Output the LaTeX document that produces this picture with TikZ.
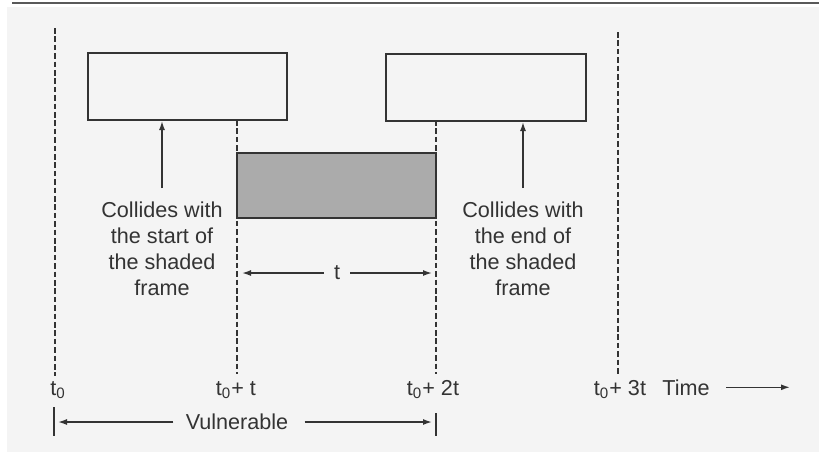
\documentclass[tikz,border=0pt]{standalone}
\usepackage{fontspec}
\setmainfont{Liberation Sans}
\usepackage{xcolor}
\definecolor{myink}{HTML}{333333}
\definecolor{mypaper}{HTML}{F4F4F4}
\definecolor{myshade}{HTML}{ABABAB}
\usetikzlibrary{arrows.meta}

\begin{document}
\begin{tikzpicture}[x=0.5pt, y=-0.5pt,
    every node/.style={text=myink, font=\fontsize{10.8}{13}\selectfont, inner sep=0pt},
    slot/.style={draw=myink, line width=0.8pt},
    marker/.style={draw=myink, line width=0.8pt, dash pattern=on 2.8pt off 1.4pt},
    pointer/.style={draw=myink, line width=0.75pt, -{Latex[length=4.5pt,width=3pt]}}]
        \useasboundingbox (0,0) rectangle (819,452);
        \fill[mypaper] (7,7) rectangle (819,452);
        \draw[black!65, line width=1pt] (12,3) -- (819,3);

        \draw[marker] (55,28) -- (55,376);
        \draw[marker] (237,120) -- (237,374);
        \draw[marker] (436,120) -- (436,374);
        \draw[marker] (618,32) -- (618,374);

        \draw[slot] (88,53) rectangle (287,120);
        \draw[slot] (386,54) rectangle (586,121);
        \filldraw[slot, fill=myshade] (237,153) rectangle (436,218);
        \coordinate (hit1) at (162,121);
        \coordinate (hit2) at (523,122);

        \node[align=center, anchor=north] (startnote) at (162,201) {Collides with\\the start of\\the shaded\\frame};
        \node[align=center, anchor=north] (endnote) at (523,201) {Collides with\\the end of\\the shaded\\frame};
        \draw[pointer] ([yshift=6.5pt]startnote.north) -- (hit1);
        \draw[pointer] ([yshift=6.5pt]endnote.north) -- (hit2);

        \coordinate (s1) at (237,273);
        \coordinate (s2) at (436,273);
        \node (span) at (337,273) {t};
        \draw[pointer, shorten <=5pt, shorten >=2.5pt] (span.west) -- (s1);
        \draw[pointer, shorten <=5pt, shorten >=2pt] (span.east) -- (s2);

        \node[anchor=base] (lab0) at (58,395) {t\textsubscript{0}};
        \node[anchor=base] (lab1) at (236,395) {t\textsubscript{0}+ t};
        \node[anchor=base] (lab2) at (433,395) {t\textsubscript{0}+ 2t};
        \node[anchor=base] (lab3) at (620,395) {t\textsubscript{0}+ 3t};
        \node[anchor=base] (time) at (686,395) {Time};
        \coordinate (timeend) at (790,0);
        \draw[pointer, shorten <=8pt] (time.east) -- (time.east -| timeend);

        \draw[myink, line width=0.8pt] (54,407) -- (54,436);
        \draw[myink, line width=0.8pt] (436,413) -- (436,436);
        \coordinate (v0) at (54,422);
        \coordinate (v2) at (436,422);
        \node (vuln) at (237,422) {Vulnerable};
        \draw[pointer, shorten <=6pt, shorten >=2pt] (vuln.west) -- (v0);
        \draw[pointer, shorten <=8pt, shorten >=2pt] (vuln.east) -- (v2);
      \end{tikzpicture}
\end{document}
